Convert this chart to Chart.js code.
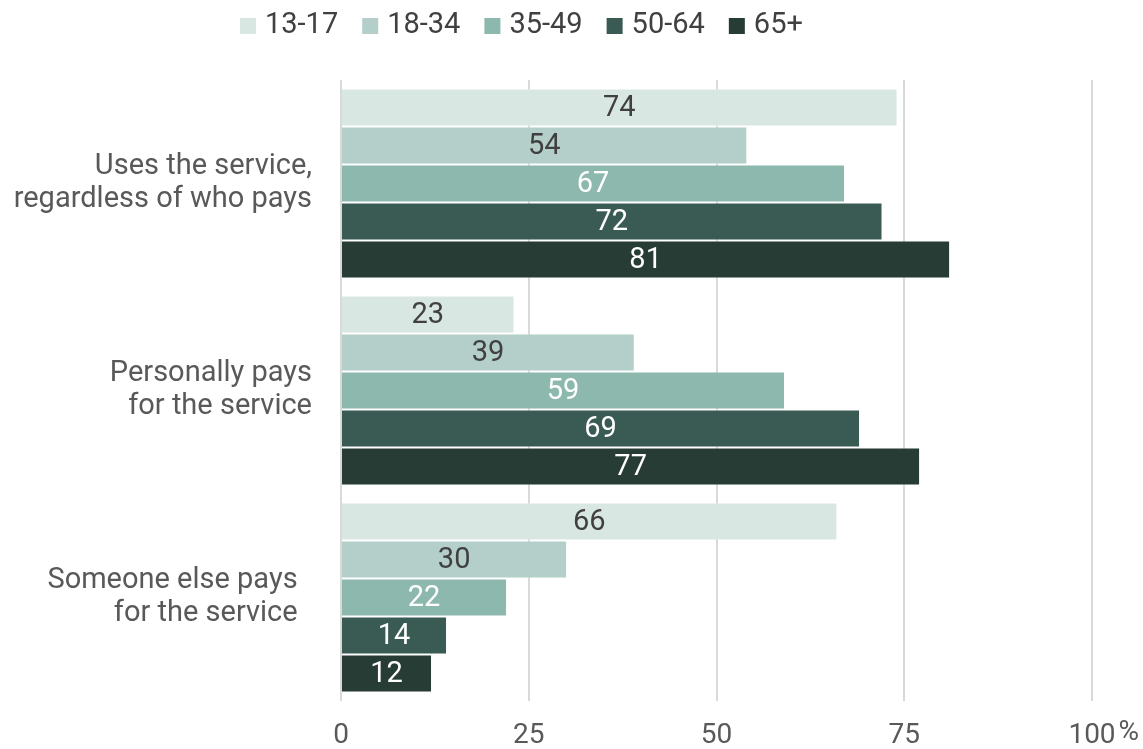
<!DOCTYPE html>
<html>
<head>
<meta charset="utf-8">
<script src="https://cdn.jsdelivr.net/npm/chart.js@4"></script>
<style>
  html, body { margin: 0; padding: 0; background: #fff; }
  #wrap { width: 1143px; height: 749px; }
</style>
</head>
<body>
<div id="wrap"><canvas id="chart" width="1143" height="749"></canvas></div>
<script>
const categories = [
  ["Uses the service,", "regardless of who pays"],
  ["Personally pays", "for the service"],
  ["Someone else pays  ", "for the service  "]
];
const ageGroups = ["13-17", "18-34", "35-49", "50-64", "65+"];
const values = [
  [74, 23, 66], // 13-17
  [54, 39, 30], // 18-34
  [67, 59, 22], // 35-49
  [72, 69, 14], // 50-64
  [81, 77, 12]  // 65+
];
const xTicks = [0, 25, 50, 75, 100];

const colors = ["#d9e7e2", "#b4cfca", "#8db8ad", "#3a5b54", "#263c35"];
const labelColors = ["#404040", "#404040", "#ffffff", "#ffffff", "#ffffff"];
const textColor = "#595959";
const FONT = "Roboto";
const TICK_PAD = 18;

// value labels centred inside each bar
const barLabels = {
  id: "barLabels",
  afterDatasetsDraw(chart) {
    const ctx = chart.ctx;
    ctx.save();
    ctx.font = "29px " + FONT;
    ctx.textAlign = "center";
    ctx.textBaseline = "middle";
    chart.data.datasets.forEach((ds, i) => {
      chart.getDatasetMeta(i).data.forEach((bar, j) => {
        ctx.fillStyle = labelColors[i];
        ctx.fillText(ds.data[j], (bar.x + bar.base) / 2, bar.y + 1);
      });
    });
    ctx.restore();
  }
};

// legend row along the top: small square, then the group name
const topLegend = {
  id: "topLegend",
  afterDraw(chart) {
    const ctx = chart.ctx;
    ctx.save();
    ctx.font = "29px " + FONT;
    ctx.textBaseline = "middle";
    let x = 240;
    const y = 25;
    chart.data.datasets.forEach((ds) => {
      ctx.fillStyle = ds.backgroundColor;
      ctx.fillRect(x, y - 7, 16, 16);
      x += 16 + 9;
      ctx.fillStyle = "#404040";
      ctx.fillText(ds.label, x, y + 1);
      x += ctx.measureText(ds.label).width + 24;
    });
    ctx.restore();
  }
};

// percent sign just after the last tick label
const percentSign = {
  id: "percentSign",
  afterDraw(chart) {
    const x = chart.scales.x;
    const ctx = chart.ctx;
    ctx.save();
    ctx.font = "28px " + FONT;
    ctx.fillStyle = textColor;
    ctx.textBaseline = "top";
    const half = ctx.measureText(String(x.max)).width / 2;
    ctx.fillText("%", x.getPixelForValue(x.max) + half + 3, x.top + TICK_PAD);
    ctx.restore();
  }
};

function drawChart() {
  new Chart(document.getElementById("chart"), {
    type: "bar",
    data: {
      labels: categories,
      datasets: ageGroups.map((g, i) => ({
        label: g,
        data: values[i],
        backgroundColor: colors[i],
        borderColor: "rgba(255,255,255,0.3)",
        borderWidth: { top: 1, bottom: 1, left: 0, right: 0 },
        borderSkipped: false,
        barPercentage: 1,
        categoryPercentage: 0.918
      }))
    },
    options: {
      indexAxis: "y",
      responsive: false,
      animation: false,
      layout: { padding: { left: 0, right: 51, top: 80, bottom: 0 } },
      plugins: {
        legend: { display: false },
        tooltip: { enabled: false }
      },
      scales: {
        x: {
          min: 0,
          max: 100,
          afterBuildTicks(scale) {
            scale.ticks = xTicks.map(v => ({ value: v }));
          },
          afterFit(scale) {
            scale.height = 48;
            scale.paddingLeft = 0;
            scale.paddingRight = 0;
          },
          grid: { color: "#d9d9d9", lineWidth: 2, drawTicks: false },
          border: { display: false },
          ticks: {
            color: textColor,
            font: { family: FONT, size: 28 },
            padding: TICK_PAD
          }
        },
        y: {
          grid: { display: false, drawTicks: false },
          border: { display: false },
          afterFit(scale) {
            scale.width = 341;
            scale.paddingTop = 0;
            scale.paddingBottom = 0;
          },
          ticks: {
            color: textColor,
            font: { family: FONT, size: 29, lineHeight: 1.14 },
            padding: 29
          }
        }
      }
    },
    plugins: [barLabels, topLegend, percentSign]
  });
}

document.fonts.load("29px Roboto").then(drawChart, drawChart);
</script>
</body>
</html>
